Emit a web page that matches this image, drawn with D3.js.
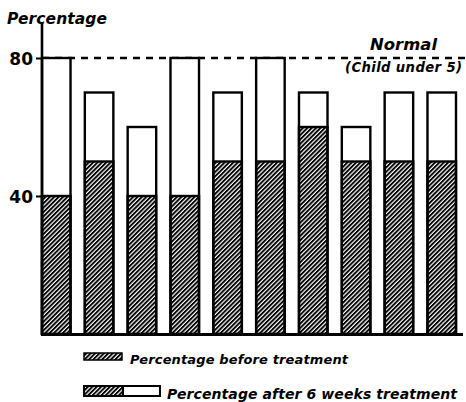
<!DOCTYPE html>
<html>
<head>
<meta charset="utf-8">
<script src="https://cdn.jsdelivr.net/npm/d3@7"></script>
<style>
  html, body { margin: 0; padding: 0; background: #fff; }
  svg { display: block; }
  text { font-family: "DejaVu Sans", "Liberation Sans", Arial, sans-serif; fill: #000; }
</style>
</head>
<body>
<svg id="chart" width="466" height="402"></svg>
<script>
// Ten children, haemoglobin percentage before and after treatment
const children = ["1", "2", "3", "4", "5", "6", "7", "8", "9", "10"];
const beforeTreatment = [40, 50, 40, 40, 50, 50, 60, 50, 50, 50];
const afterTreatment  = [80, 70, 60, 80, 70, 80, 70, 60, 70, 70];
const yTicks = [40, 80];
const normalLevel = 80;
const yTitle = "Percentage";
const normalLabel = "Normal";
const normalNote = "(Child under 5)";
const legendLabels = ["Percentage before treatment", "Percentage after 6 weeks treatment"];

const svg = d3.select("#chart");

const x = d3.scaleBand()
  .domain(children)
  .range([42, 456])
  .paddingInner(0.334)
  .paddingOuter(0);

const y = d3.scaleLinear()
  .domain([0, 80])
  .range([334, 58]);

// diagonal hatching used for the "before" portion
const defs = svg.append("defs");
defs.append("pattern")
  .attr("id", "hatch")
  .attr("patternUnits", "userSpaceOnUse")
  .attr("width", 3.1)
  .attr("height", 3.1)
  .attr("patternTransform", "rotate(45)")
  .append("rect")
  .attr("x", 0).attr("y", 0)
  .attr("width", 1.9).attr("height", 3.1)
  .attr("fill", "#000");

// normal level reference line
svg.append("line")
  .attr("x1", 42).attr("x2", 466)
  .attr("y1", y(normalLevel)).attr("y2", y(normalLevel))
  .attr("stroke", "#000")
  .attr("stroke-width", 2.6)
  .attr("stroke-dasharray", "7,6");

// bars: white total after treatment, hatched part before treatment
const bars = svg.append("g");
children.forEach((c, i) => {
  bars.append("rect")
    .attr("x", x(c))
    .attr("y", y(afterTreatment[i]))
    .attr("width", x.bandwidth())
    .attr("height", y(0) - y(afterTreatment[i]))
    .attr("fill", "#fff")
    .attr("stroke", "#000")
    .attr("stroke-width", 2.4);
  bars.append("rect")
    .attr("x", x(c))
    .attr("y", y(beforeTreatment[i]))
    .attr("width", x.bandwidth())
    .attr("height", y(0) - y(beforeTreatment[i]))
    .attr("fill", "url(#hatch)")
    .attr("stroke", "#000")
    .attr("stroke-width", 2.4);
});

// y axis
const yAxis = d3.axisLeft(y)
  .tickValues(yTicks)
  .tickSize(6)
  .tickPadding(3)
  .tickFormat(d3.format("d"));
const gy = svg.append("g")
  .attr("transform", "translate(42,0)")
  .call(yAxis);
gy.select(".domain").remove();
gy.selectAll(".tick line").attr("stroke", "#000").attr("stroke-width", 2);
gy.selectAll(".tick text")
  .attr("font-size", 17)
  .attr("font-weight", "bold")
  .attr("dy", "0.36em")
  .style("font-family", "'DejaVu Sans', Arial, sans-serif");

svg.append("line")
  .attr("x1", 42).attr("x2", 42)
  .attr("y1", 23).attr("y2", y(0) + 1)
  .attr("stroke", "#000")
  .attr("stroke-width", 2.6);

// baseline
svg.append("line")
  .attr("x1", 41).attr("x2", 463)
  .attr("y1", y(0) + 0.5).attr("y2", y(0) + 0.5)
  .attr("stroke", "#000")
  .attr("stroke-width", 3);

// titles
svg.append("text")
  .attr("x", 7).attr("y", 24)
  .attr("font-size", 15.5)
  .attr("font-weight", "bold")
  .attr("font-style", "italic")
  .attr("textLength", 100)
  .attr("lengthAdjust", "spacing")
  .text(yTitle);

svg.append("text")
  .attr("x", 370).attr("y", 50)
  .attr("font-size", 16.4)
  .attr("font-weight", "bold")
  .attr("font-style", "italic")
  .attr("textLength", 67)
  .attr("lengthAdjust", "spacing")
  .text(normalLabel);

svg.append("text")
  .attr("x", 345).attr("y", 72)
  .attr("font-size", 13.2)
  .attr("font-weight", "bold")
  .attr("font-style", "italic")
  .attr("textLength", 117)
  .attr("lengthAdjust", "spacing")
  .text(normalNote);

// legend
const lg = svg.append("g");
lg.append("rect")
  .attr("x", 84).attr("y", 353)
  .attr("width", 38).attr("height", 7)
  .attr("fill", "url(#hatch)")
  .attr("stroke", "#000").attr("stroke-width", 1.5);
lg.append("text")
  .attr("x", 130).attr("y", 364)
  .attr("font-size", 13)
  .attr("font-weight", "bold")
  .attr("font-style", "italic")
  .attr("textLength", 218)
  .attr("lengthAdjust", "spacing")
  .text(legendLabels[0]);

lg.append("rect")
  .attr("x", 84).attr("y", 386)
  .attr("width", 76).attr("height", 10)
  .attr("fill", "#fff")
  .attr("stroke", "#000").attr("stroke-width", 2);
lg.append("rect")
  .attr("x", 84).attr("y", 386)
  .attr("width", 39).attr("height", 10)
  .attr("fill", "url(#hatch)")
  .attr("stroke", "#000").attr("stroke-width", 2);
lg.append("text")
  .attr("x", 167).attr("y", 399)
  .attr("font-size", 14)
  .attr("font-weight", "bold")
  .attr("font-style", "italic")
  .attr("textLength", 290)
  .attr("lengthAdjust", "spacing")
  .text(legendLabels[1]);
</script>
</body>
</html>
